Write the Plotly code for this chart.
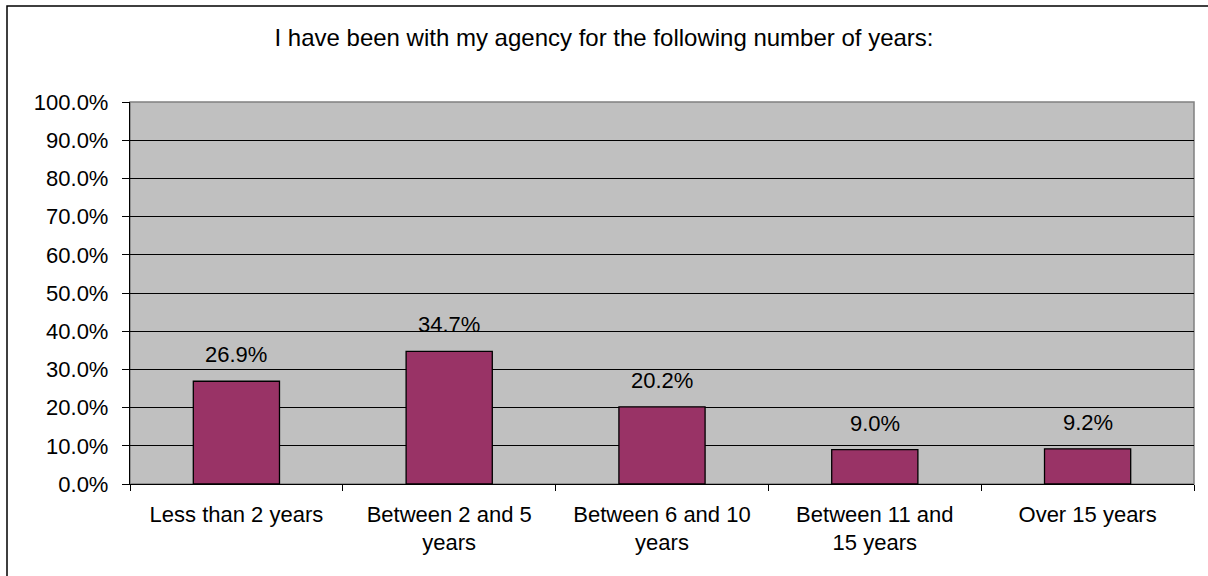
import plotly.graph_objects as go

# Survey responses: tenure with the agency
categories = [
    "Less than 2 years",
    "Between 2 and 5<br>years",
    "Between 6 and 10<br>years",
    "Between 11 and<br>15 years",
    "Over 15 years",
]
shares = [26.9, 34.7, 20.2, 9.0, 9.2]
y_ticks = [0, 10, 20, 30, 40, 50, 60, 70, 80, 90, 100]
title_text = "I have been with my agency for the following number of years:"

W, H = 1208, 576
L, R, T, B = 130, 14, 102, 92
FONT = "Liberation Sans, Arial, sans-serif"
FS = 22

fig = go.Figure(
    go.Bar(
        x=categories,
        y=shares,
        marker=dict(color="#993366", line=dict(color="black", width=1.3)),
        cliponaxis=False,
        hoverinfo="x+y",
    )
)

# value labels above each bar
for cat, v in zip(categories, shares):
    fig.add_annotation(
        x=cat, y=v, text=f"{v:.1f}%", showarrow=False,
        yanchor="bottom", yshift=12,
        font=dict(family=FONT, size=FS, color="black"),
    )

# outer chart frame, positioned relative to the plot area in paper units
pw, ph = W - L - R, H - T - B
def px_x(p):
    return (p - L) / pw
def px_y(p):
    return (H - B - p) / ph

fig.add_shape(
    type="rect", xref="paper", yref="paper",
    x0=px_x(7), x1=px_x(1212), y0=px_y(580), y1=px_y(6),
    line=dict(color="black", width=1.5), fillcolor="rgba(0,0,0,0)", layer="above",
)
# plot area border
fig.add_shape(
    type="rect", xref="paper", yref="paper", x0=0, x1=1, y0=0, y1=1,
    line=dict(color="#808080", width=1.5), fillcolor="rgba(0,0,0,0)", layer="below",
)

fig.update_layout(
    width=W, height=H,
    margin=dict(l=L, r=R, t=T, b=B, pad=0),
    paper_bgcolor="white",
    plot_bgcolor="#C0C0C0",
    bargap=0.595,
    showlegend=False,
    title=dict(
        text=title_text, x=0.5, xref="container", xanchor="center",
        y=1 - 38 / H, yref="container", yanchor="middle",
        font=dict(family=FONT, size=24, color="black"),
    ),
    font=dict(family=FONT, size=FS, color="black"),
)

fig.update_yaxes(
    range=[0, 100],
    tickvals=y_ticks,
    ticktext=[f"{v:.1f}%" for v in y_ticks],
    showgrid=True, gridcolor="black", gridwidth=1,
    ticks="outside", ticklen=7, tickcolor="black", tickwidth=1,
    showline=True, linecolor="black", linewidth=1.3,
    zeroline=False,
    tickfont=dict(family=FONT, size=FS, color="black"),
    ticklabelstandoff=9,
)
fig.update_xaxes(
    tickson="boundaries",
    ticks="outside", ticklen=6, tickcolor="black", tickwidth=1,
    showline=True, linecolor="black", linewidth=1.3,
    showgrid=False,
    tickfont=dict(family=FONT, size=FS, color="black"),
    ticklabelstandoff=10,
)

fig.write_html("out.html")
